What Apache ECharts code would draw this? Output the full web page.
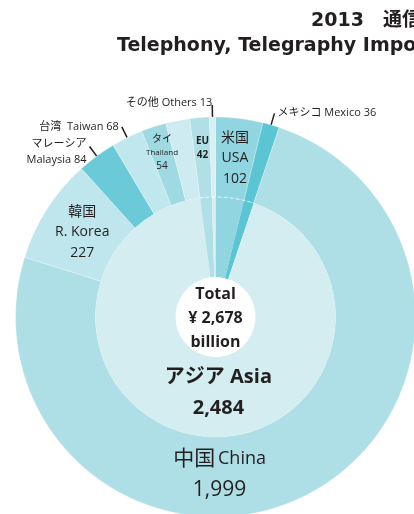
<!DOCTYPE html>
<html>
<head>
<meta charset="utf-8">
<title>2013 通信機輸入</title>
<script src="https://cdn.jsdelivr.net/npm/echarts@6/dist/echarts.min.js"></script>
<style>
html, body { margin: 0; padding: 0; background: #fff; }
#main { width: 414px; height: 514px; }
</style>
</head>
<body>
<div id="main"></div>
<script>
// outer ring: countries, clockwise from 12 o'clock
const countryKeys = ['usa', 'mexico', 'china', 'korea', 'malaysia', 'taiwan', 'thailand', 'otherAsia', 'eu', 'others'];
const countryJa = ['米国', 'メキシコ', '中国', '韓国', 'マレーシア', '台湾', 'タイ', '', 'EU', 'その他'];
const countryEn = ['USA', 'Mexico', 'China', 'R. Korea', 'Malaysia', 'Taiwan', 'Thailand', '', '', 'Others'];
const countryValues = [102, 36, 1999, 227, 84, 68, 54, 52, 42, 13];

// inner ring: regions (non-Asia slices run through both rings)
const regionKeys = ['usa', 'mexico', 'asia', 'eu', 'others'];
const regionJa = ['米国', 'メキシコ', 'アジア', 'EU', 'その他'];
const regionEn = ['USA', 'Mexico', 'Asia', 'EU', 'Others'];
const regionValues = [102, 36, 2484, 42, 13];
const totalValue = 2678;

const colors = {
  usa: '#90d5df',
  mexico: '#5bc5d3',
  china: '#aedfe6',
  korea: '#bee6ec',
  malaysia: '#6bcad7',
  taiwan: '#c0e7ed',
  thailand: '#9fd9e2',
  otherAsia: '#cdebf0',
  eu: '#b0dfe6',
  others: '#d8f0f4',
  asia: '#d4edf1'
};

// small shifts of the labels
const nudge = {
  usa: [0, 3],
  china: [-70, 12],
  korea: [4, 3],
  thailand: [-3, -9],
  eu: [0, -6],
  malaysia: [0, 5],
  others: [3, -2],
  asia: [11, -7]
};

const textColor = '#231f20';
const fontFamily = '"Open Sans", "Noto Sans CJK JP", sans-serif';
const center = [215.5, 317];

function fmt(v) {
  return v.toLocaleString('en-US');
}

function outerLabel(i) {
  const key = countryKeys[i];
  const ja = countryJa[i];
  const en = countryEn[i];
  const v = fmt(countryValues[i]);
  switch (key) {
    case 'usa':
    case 'korea':
      return { position: 'inside', formatter: `{m|${ja}}\n{m|${en}}\n{m|${v}}` };
    case 'china':
      return { position: 'inside', formatter: `{big|${ja}} {en|${en}}\n{big|${v}}` };
    case 'thailand':
      return { position: 'inside', formatter: `{s|${ja}}\n{xs|${en}}\n{s|${v}}` };
    case 'eu':
      return { position: 'inside', formatter: `{eu|${ja}}\n{eu|${v}}` };
    case 'malaysia':
      return { position: 'outside', formatter: `${ja}\n${en} ${v}` };
    case 'taiwan':
      return { position: 'outside', formatter: `${ja}  ${en} ${v}` };
    case 'mexico':
    case 'others':
      return { position: 'outside', formatter: `${ja} ${en} ${v}` };
    default:
      return { show: false };
  }
}

const outerData = countryKeys.map((key, i) => ({
  name: countryEn[i] || key,
  value: countryValues[i],
  itemStyle: { color: colors[key] },
  label: outerLabel(i),
  labelLine: { show: true }
}));

const innerData = regionKeys.map((key, i) => ({
  name: regionEn[i],
  value: regionValues[i],
  itemStyle: { color: colors[key] },
  label: key === 'asia'
    ? { show: true, position: 'inside', formatter: `{asia|${regionJa[i]} ${regionEn[i]}}\n{asia|${fmt(regionValues[i])}}` }
    : { show: false }
}));

// dashed seam between the rings, only where the non-Asia slices cross it
const regionSum = regionValues.reduce((a, b) => a + b, 0);
const asiaIdx = regionKeys.indexOf('asia');
const beforeAsia = regionValues.slice(0, asiaIdx).reduce((a, b) => a + b, 0);
const asiaStart = -Math.PI / 2 + beforeAsia / regionSum * Math.PI * 2;
const asiaEnd = asiaStart + regionValues[asiaIdx] / regionSum * Math.PI * 2;

const chart = echarts.init(document.getElementById('main'));

const option = {
  animation: false,
  backgroundColor: '#fff',
  graphic: [
    {
      type: 'text',
      x: 311,
      y: 21,
      style: {
        text: '2013　通信機輸入',
        font: 'bold 19px "DejaVu Sans", "Noto Sans CJK JP"',
        fill: textColor,
        verticalAlign: 'middle'
      }
    },
    {
      type: 'text',
      x: 117,
      y: 46,
      style: {
        text: 'Telephony, Telegraphy Imports',
        font: 'bold 19px "DejaVu Sans"',
        fill: textColor,
        verticalAlign: 'middle'
      }
    },
    {
      type: 'arc',
      silent: true,
      z: 10,
      shape: { cx: center[0], cy: center[1], r: 120, startAngle: asiaEnd, endAngle: asiaStart + Math.PI * 2, clockwise: true },
      style: { fill: 'none', stroke: 'rgba(255,255,255,0.7)', lineWidth: 1, lineDash: [3, 3] }
    },
    {
      type: 'text',
      x: center[0],
      y: center[1] + 1,
      z: 10,
      style: {
        text: 'Total\n¥ ' + fmt(totalValue) + '\nbillion',
        font: 'bold 16px "Open Sans"',
        fill: textColor,
        align: 'center',
        verticalAlign: 'middle',
        lineHeight: 24
      }
    }
  ],
  series: [
    {
      type: 'pie',
      center: center,
      radius: [120, 200],
      startAngle: 90,
      clockwise: true,
      avoidLabelOverlap: false,
      silent: true,
      itemStyle: { borderColor: 'rgba(255,255,255,0.5)', borderWidth: 0.5 },
      label: {
        color: textColor,
        fontFamily: fontFamily,
        fontSize: 11,
        lineHeight: 16,
        distanceToLabelLine: 3,
        rich: {
          m: { fontSize: 14, lineHeight: 20.5, color: textColor, fontFamily: fontFamily },
          big: { fontSize: 21, lineHeight: 31, color: textColor, fontFamily: fontFamily },
          en: { fontSize: 18, lineHeight: 31, color: textColor, fontFamily: fontFamily },
          s: { fontSize: 10, lineHeight: 13.5, color: textColor, fontFamily: fontFamily },
          xs: { fontSize: 8, lineHeight: 13.5, color: textColor, fontFamily: fontFamily },
          eu: { fontSize: 10, lineHeight: 14, fontWeight: 'bold', color: textColor, fontFamily: fontFamily }
        }
      },
      labelLine: {
        length: 12,
        length2: 0,
        lineStyle: { color: textColor, width: 1.5 }
      },
      labelLayout: function (params) {
        const n = nudge[countryKeys[params.dataIndex]];
        return n ? { dx: n[0], dy: n[1] } : {};
      },
      data: outerData
    },
    {
      type: 'pie',
      center: center,
      radius: [40, 120],
      startAngle: 90,
      clockwise: true,
      avoidLabelOverlap: false,
      silent: true,
      itemStyle: { borderWidth: 0 },
      label: {
        color: textColor,
        rich: {
          asia: { fontSize: 20, lineHeight: 31, fontWeight: 'bold', color: textColor, fontFamily: fontFamily }
        }
      },
      labelLine: { show: false },
      labelLayout: function (params) {
        const n = nudge[regionKeys[params.dataIndex]];
        return n ? { dx: n[0], dy: n[1] } : {};
      },
      data: innerData
    }
  ]
};

chart.setOption(option);
</script>
</body>
</html>
